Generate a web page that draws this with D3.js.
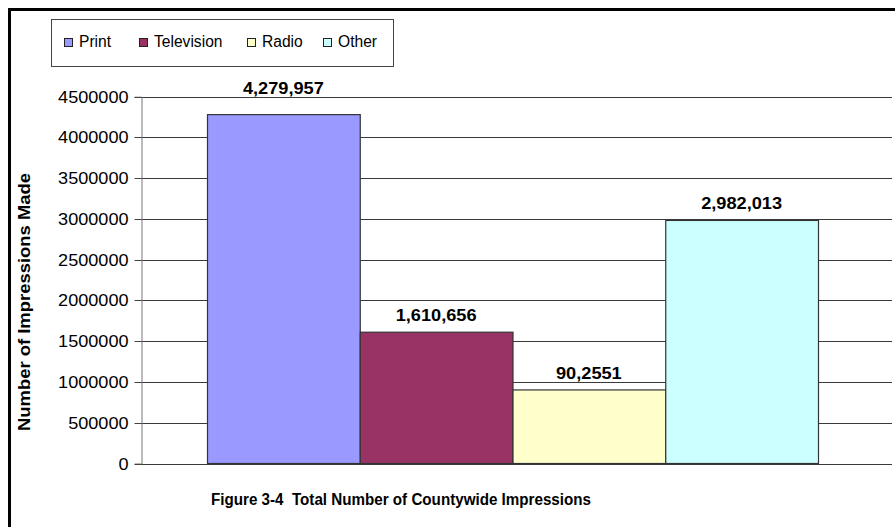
<!DOCTYPE html>
<html>
<head>
<meta charset="utf-8">
<script src="https://cdn.jsdelivr.net/npm/d3@7"></script>
<style>
  html, body { margin: 0; padding: 0; background: #fff; }
  svg { display: block; font-family: "Liberation Sans", Arial, sans-serif; }
</style>
</head>
<body>
<svg id="chart" width="895" height="527"></svg>
<script>
const series = ["Print", "Television", "Radio", "Other"];
const values = [4279957, 1610656, 902551, 2982013];
const valueLabels = ["4,279,957", "1,610,656", "90,2551", "2,982,013"];
const colors = ["#9999FF", "#993366", "#FFFFCC", "#CCFFFF"];
const yTicks = [0, 500000, 1000000, 1500000, 2000000, 2500000, 3000000, 3500000, 4000000, 4500000];
const yTitle = "Number of Impressions Made";
const chartTitle = "Figure 3-4  Total Number of Countywide Impressions";

const svg = d3.select("#chart");

// stretch text horizontally by a factor
function stretch(sel, factor) {
  sel.each(function () {
    const w = this.getComputedTextLength();
    d3.select(this).attr("textLength", w * factor).attr("lengthAdjust", "spacingAndGlyphs");
  });
}

// outer frame
svg.append("rect")
  .attr("x", 9.5).attr("y", 9.5).attr("width", 900).attr("height", 540)
  .attr("fill", "#fff").attr("stroke", "#000").attr("stroke-width", 3);

const plotLeft = 141, plotRight = 892, plotTop = 96.7, plotBottom = 463.5;

const y = d3.scaleLinear().domain([0, 4500000]).range([plotBottom, plotTop]);
const x = d3.scaleBand().domain(series).range([207, 818]).padding(0);

// gridlines
svg.append("g").selectAll("line").data(yTicks).join("line")
  .attr("x1", plotLeft).attr("x2", plotRight)
  .attr("y1", d => Math.round(y(d)) + 0.5).attr("y2", d => Math.round(y(d)) + 0.5)
  .attr("stroke", "#3a3a3a").attr("stroke-width", 1);

// y axis
const yAxis = d3.axisLeft(y).tickValues(yTicks).tickSize(7).tickPadding(6)
  .tickFormat(d3.format("d"));
const gy = svg.append("g").attr("transform", `translate(${plotLeft + 0.5},0)`).call(yAxis);
gy.select(".domain").attr("stroke", "#777");
gy.selectAll(".tick line").attr("stroke", "#444");
gy.selectAll(".tick").attr("transform", d => `translate(0,${Math.round(y(d)) + 0.5})`);
const tickTexts = gy.selectAll(".tick text").attr("font-size", 16).attr("fill", "#000")
  .attr("font-family", "Liberation Sans, Arial, sans-serif").attr("dy", "0.36em");
stretch(tickTexts, 1.13);

// bars
svg.append("g").selectAll("rect").data(values).join("rect")
  .attr("x", (d, i) => x(series[i]) + 0.5)
  .attr("y", d => y(d))
  .attr("width", x.bandwidth())
  .attr("height", d => plotBottom - y(d))
  .attr("fill", (d, i) => colors[i])
  .attr("stroke", "#333").attr("stroke-width", 1.2);

// bar labels (a label that would collide with the top gridline sits above it)
const labelY = d => (y(d) - 11 < plotTop + 8 ? plotTop - 3 : y(d) - 11);
const labels = svg.append("g").selectAll("text").data(values).join("text")
  .attr("x", (d, i) => x(series[i]) + x.bandwidth() / 2)
  .attr("y", labelY)
  .attr("text-anchor", "middle")
  .attr("font-size", 17).attr("font-weight", "bold").attr("fill", "#000")
  .text((d, i) => valueLabels[i]);
stretch(labels, 1.07);

// y title
svg.append("text")
  .attr("transform", "translate(30,302) rotate(-90)")
  .attr("text-anchor", "middle")
  .attr("font-size", 16).attr("font-weight", "bold")
  .attr("textLength", 258).attr("lengthAdjust", "spacingAndGlyphs")
  .text(yTitle);

// chart title
svg.append("text")
  .attr("x", 211).attr("y", 505)
  .style("white-space", "pre")
  .attr("font-size", 16).attr("font-weight", "bold")
  .attr("textLength", 380).attr("lengthAdjust", "spacingAndGlyphs")
  .text(chartTitle);

// legend
const legend = svg.append("g");
legend.append("rect").attr("x", 51.5).attr("y", 19.5).attr("width", 342).attr("height", 47)
  .attr("fill", "#fff").attr("stroke", "#444").attr("stroke-width", 1);
const legendX = [64, 139, 247, 323];
const items = legend.selectAll("g.item").data(series).join("g").attr("class", "item")
  .attr("transform", (d, i) => `translate(${legendX[i]},0)`);
items.append("rect").attr("x", 0.5).attr("y", 38.5).attr("width", 8).attr("height", 8)
  .attr("fill", (d, i) => colors[i]).attr("stroke", "#222").attr("stroke-width", 1);
items.append("text").attr("x", 15).attr("y", 47)
  .attr("font-size", 15.6).attr("fill", "#000").text(d => d);
</script>
</body>
</html>
